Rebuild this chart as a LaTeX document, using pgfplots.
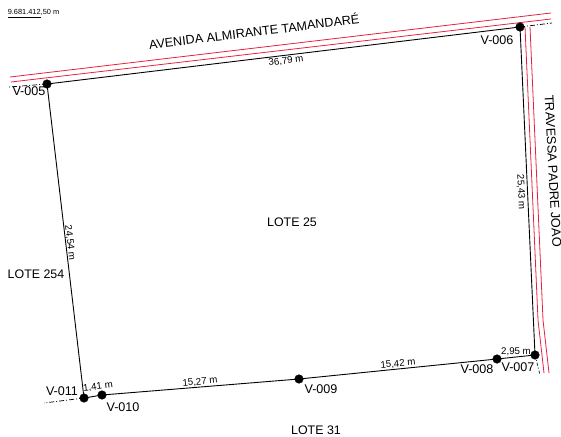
\documentclass[border=0pt]{standalone}
\usepackage{pgfplots}
\pgfplotsset{compat=1.18}
\usepackage{fontspec}
\setmainfont{Liberation Sans}
\definecolor{via}{HTML}{E8203C}
% x y rotation size text
\newcommand{\lbl}[5]{\node[rotate=#3,inner sep=0pt,font=\fontsize{#4}{#4}\selectfont] at (axis cs:#1,#2) {#5};}
\begin{document}
\begin{tikzpicture}
  \path[use as bounding box] (0,0) rectangle (561pt,436pt);
  \begin{axis}[
    at={(0,0)}, anchor=south west,
    scale only axis, width=561pt, height=436pt,
    xmin=0, xmax=561, ymin=0, ymax=436,
    y dir=reverse, hide axis, clip=false,
  ]
    % road edges
    \addplot[via, line width=0.8pt] coordinates {(10,77) (551,13)};
    \addplot[via, line width=0.8pt] coordinates {(11,82) (551,19)};
    \addplot[via, line width=0.8pt] coordinates {(525,27) (538,320) (544,373)};
    \addplot[via, line width=0.8pt] coordinates {(530,27) (543,320) (549,373)};
    % dash-dot extensions
    \addplot[black, line width=0.7pt, dash pattern=on 5pt off 2pt on 1pt off 2pt] coordinates {(47,84) (9,87)};
    \addplot[black, line width=0.7pt, dash pattern=on 5pt off 2pt on 1pt off 2pt] coordinates {(520,27) (552,23)};
    \addplot[black, line width=0.7pt, dash pattern=on 3pt off 2pt on 1pt off 2pt] coordinates {(535,355) (540,375)};
    \addplot[black, line width=0.7pt, dash pattern=on 5pt off 2pt on 1pt off 2pt] coordinates {(84,398) (44,403)};
    % lot boundary
    \addplot[black, line width=0.9pt] coordinates {
      (47,84) (520,27) (535,355) (497,359) (299,379) (102,395) (84,398) (47,84)};
    \addplot[only marks, mark=*, mark size=4.3pt, black] coordinates {
      (47,84) (520,27) (535,355) (497,359) (299,379) (102,395) (84,398)};
    % scale underline
    \addplot[black, line width=0.7pt] coordinates {(8,17) (41,17)};
    \lbl{33.5}{12}{0}{7.4}{9.681.412,50 m}
    \lbl{254}{31}{7}{12.6}{AVENIDA ALMIRANTE TAMANDARÉ}
    \lbl{553}{171}{-87}{12.8}{TRAVESSA PADRE JOAO}
    \lbl{292}{222}{0}{12.4}{LOTE 25}
    \lbl{36}{274}{0}{12.4}{LOTE 254}
    \lbl{316}{430}{0}{12.4}{LOTE 31}
    \lbl{286}{61}{7}{9.7}{36,79 m}
    \lbl{70}{243}{-83}{9.7}{24,54 m}
    \lbl{521}{192}{-87}{9.7}{25,43 m}
    \lbl{200}{382}{5}{9.7}{15,27 m}
    \lbl{398}{364}{5}{9.7}{15,42 m}
    \lbl{516}{352}{0}{9.7}{2,95 m}
    \lbl{98}{387}{7}{9.7}{1,41 m}
    \lbl{29}{91}{0}{12.6}{V-005}
    \lbl{497}{40}{0}{12.6}{V-006}
    \lbl{518}{367}{0}{12.6}{V-007}
    \lbl{477}{369}{0}{12.6}{V-008}
    \lbl{321}{389}{0}{12.6}{V-009}
    \lbl{123}{407}{0}{12.6}{V-010}
    \lbl{62}{391}{0}{12.6}{V-011}
  \end{axis}
\end{tikzpicture}
\end{document}
